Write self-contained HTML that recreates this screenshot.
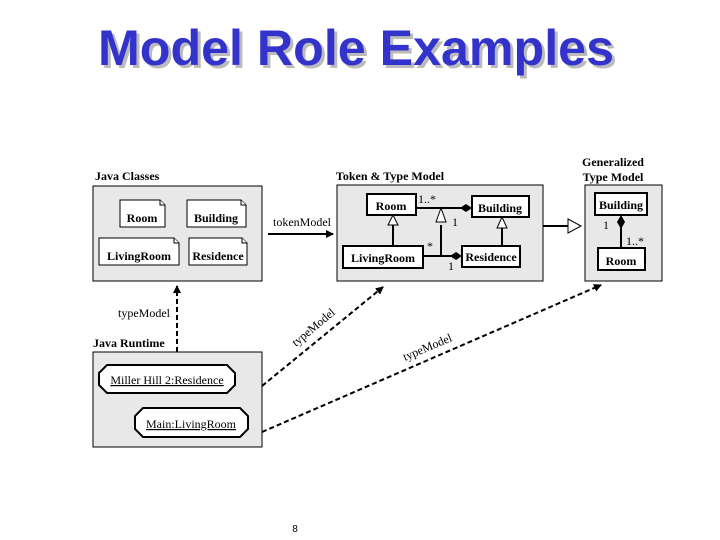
<!DOCTYPE html>
<html><head><meta charset="utf-8"><style>
html,body{margin:0;padding:0;background:#fff;width:720px;height:540px;overflow:hidden}
text{font-family:"Liberation Serif",serif}
.b{font-weight:bold;font-size:12px}
.n{font-size:12px}
</style></head><body>
<svg width="720" height="540" viewBox="0 0 720 540" xmlns="http://www.w3.org/2000/svg">
<defs>
<marker id="ar" markerWidth="8" markerHeight="8" refX="7" refY="4" orient="auto" markerUnits="userSpaceOnUse"><path d="M0,0 L8,4 L0,8 z" fill="#000"/></marker>
</defs>
<!-- title -->
<text x="359" y="68" text-anchor="middle" font-family="Liberation Sans,sans-serif" font-weight="bold" font-size="50" fill="#bbb" textLength="516" lengthAdjust="spacingAndGlyphs" style="font-family:'Liberation Sans',sans-serif">Model Role Examples</text>
<text x="356" y="65" text-anchor="middle" font-weight="bold" font-size="50" fill="#3333cc" textLength="516" lengthAdjust="spacingAndGlyphs" style="font-family:'Liberation Sans',sans-serif">Model Role Examples</text>

<!-- Java Classes -->
<text x="95" y="180" class="b">Java Classes</text>
<rect x="93" y="186" width="169" height="95" fill="#e8e8e8" stroke="#000" stroke-width="1"/>
<g fill="#fff" stroke="#000" stroke-width="1">
<path d="M120,200 H160 L165,205 V227 H120 Z"/><path d="M160,200 V205 H165"/>
<path d="M187,200 H241 L246,205 V227 H187 Z"/><path d="M241,200 V205 H246"/>
<path d="M99,238 H174 L179,243 V265 H99 Z"/><path d="M174,238 V243 H179"/>
<path d="M189,238 H242 L247,243 V265 H189 Z"/><path d="M242,238 V243 H247"/>
</g>
<text x="142" y="222" class="b" text-anchor="middle">Room</text>
<text x="216" y="222" class="b" text-anchor="middle">Building</text>
<text x="139" y="260" class="b" text-anchor="middle">LivingRoom</text>
<text x="218" y="260" class="b" text-anchor="middle">Residence</text>

<!-- tokenModel -->
<line x1="268" y1="234" x2="333" y2="234" stroke="#000" stroke-width="2" marker-end="url(#ar)"/>
<text x="302" y="226" class="n" text-anchor="middle">tokenModel</text>

<!-- Token & Type Model -->
<text x="390" y="180" class="b" text-anchor="middle">Token &amp; Type Model</text>
<rect x="337" y="185" width="206" height="96" fill="#e8e8e8" stroke="#000"/>
<g stroke="#000" stroke-width="2" fill="none">
<line x1="416" y1="208" x2="466" y2="208"/>
<line x1="423" y1="256" x2="456" y2="256"/>
<line x1="393" y1="225" x2="393" y2="245"/>
<line x1="441" y1="225" x2="441" y2="256"/>
<line x1="502" y1="228" x2="502" y2="245"/>
</g>
<g stroke="#000" stroke-width="1" fill="#fff">
<path d="M393,215 L388,225 L398,225 Z"/>
<path d="M441,208 L436,222 L446,222 Z"/>
<path d="M502,217 L497,228 L507,228 Z"/>
</g>
<path d="M460,208 L466,204 L472,208 L466,212 Z" fill="#000"/>
<path d="M450,256 L456,252 L462,256 L456,260 Z" fill="#000"/>
<g fill="#fff" stroke="#000" stroke-width="2">
<rect x="367" y="194" width="49" height="21"/>
<rect x="472" y="196" width="57" height="21"/>
<rect x="343" y="246" width="80" height="22"/>
<rect x="462" y="246" width="58" height="21"/>
</g>
<text x="391" y="210" class="b" text-anchor="middle">Room</text>
<text x="500" y="212" class="b" text-anchor="middle">Building</text>
<text x="383" y="262" class="b" text-anchor="middle">LivingRoom</text>
<text x="491" y="261" class="b" text-anchor="middle">Residence</text>
<text x="418" y="203" class="n">1..*</text>
<text x="452" y="226" class="n">1</text>
<text x="427" y="250" class="n">*</text>
<text x="448" y="270" class="n">1</text>

<!-- generalization arrow -->
<line x1="543" y1="226" x2="568" y2="226" stroke="#000" stroke-width="2"/>
<path d="M568,219 L581,226 L568,233 Z" fill="#fff" stroke="#000"/>

<!-- Generalized -->
<text x="613" y="166" class="b" text-anchor="middle">Generalized</text>
<text x="613" y="181" class="b" text-anchor="middle">Type Model</text>
<rect x="585" y="185" width="77" height="96" fill="#e8e8e8" stroke="#000"/>
<line x1="621" y1="225" x2="621" y2="248" stroke="#000" stroke-width="2"/>
<path d="M621,215 L625,222 L621,229 L617,222 Z" fill="#000"/>
<g fill="#fff" stroke="#000" stroke-width="2">
<rect x="595" y="193" width="52" height="22"/>
<rect x="598" y="248" width="47" height="22"/>
</g>
<text x="621" y="209" class="b" text-anchor="middle">Building</text>
<text x="621" y="265" class="b" text-anchor="middle">Room</text>
<text x="603" y="229" class="n">1</text>
<text x="626" y="245" class="n">1..*</text>

<!-- Java Runtime -->
<text x="93" y="347" class="b">Java Runtime</text>
<rect x="93" y="352" width="169" height="95" fill="#e8e8e8" stroke="#000"/>
<g fill="#fff" stroke="#000" stroke-width="2">
<path d="M107,365 H227 L235,373 V385 L227,393 H107 L99,385 V373 Z"/>
<path d="M143,408 H240 L248,416 V429 L240,437 H143 L135,429 V416 Z"/>
</g>
<text x="167" y="384" class="n" text-anchor="middle" text-decoration="underline">Miller Hill 2:Residence</text>
<text x="191" y="428" class="n" text-anchor="middle" text-decoration="underline">Main:LivingRoom</text>

<!-- typeModel dashed -->
<g stroke="#000" stroke-width="2" stroke-dasharray="5,3" fill="none">
<line x1="177" y1="352" x2="177" y2="286" marker-end="url(#ar)"/>
<line x1="262" y1="386" x2="383" y2="287" marker-end="url(#ar)"/>
<line x1="262" y1="432" x2="601" y2="285" marker-end="url(#ar)"/>
</g>
<text x="118" y="317" class="n">typeModel</text>
<text class="n" transform="translate(296,347) rotate(-40)">typeModel</text>
<text class="n" transform="translate(405,361) rotate(-23)">typeModel</text>

<text x="295" y="532" font-size="10" text-anchor="middle" style="font-family:'Liberation Sans',sans-serif">8</text>
</svg>
</body></html>
